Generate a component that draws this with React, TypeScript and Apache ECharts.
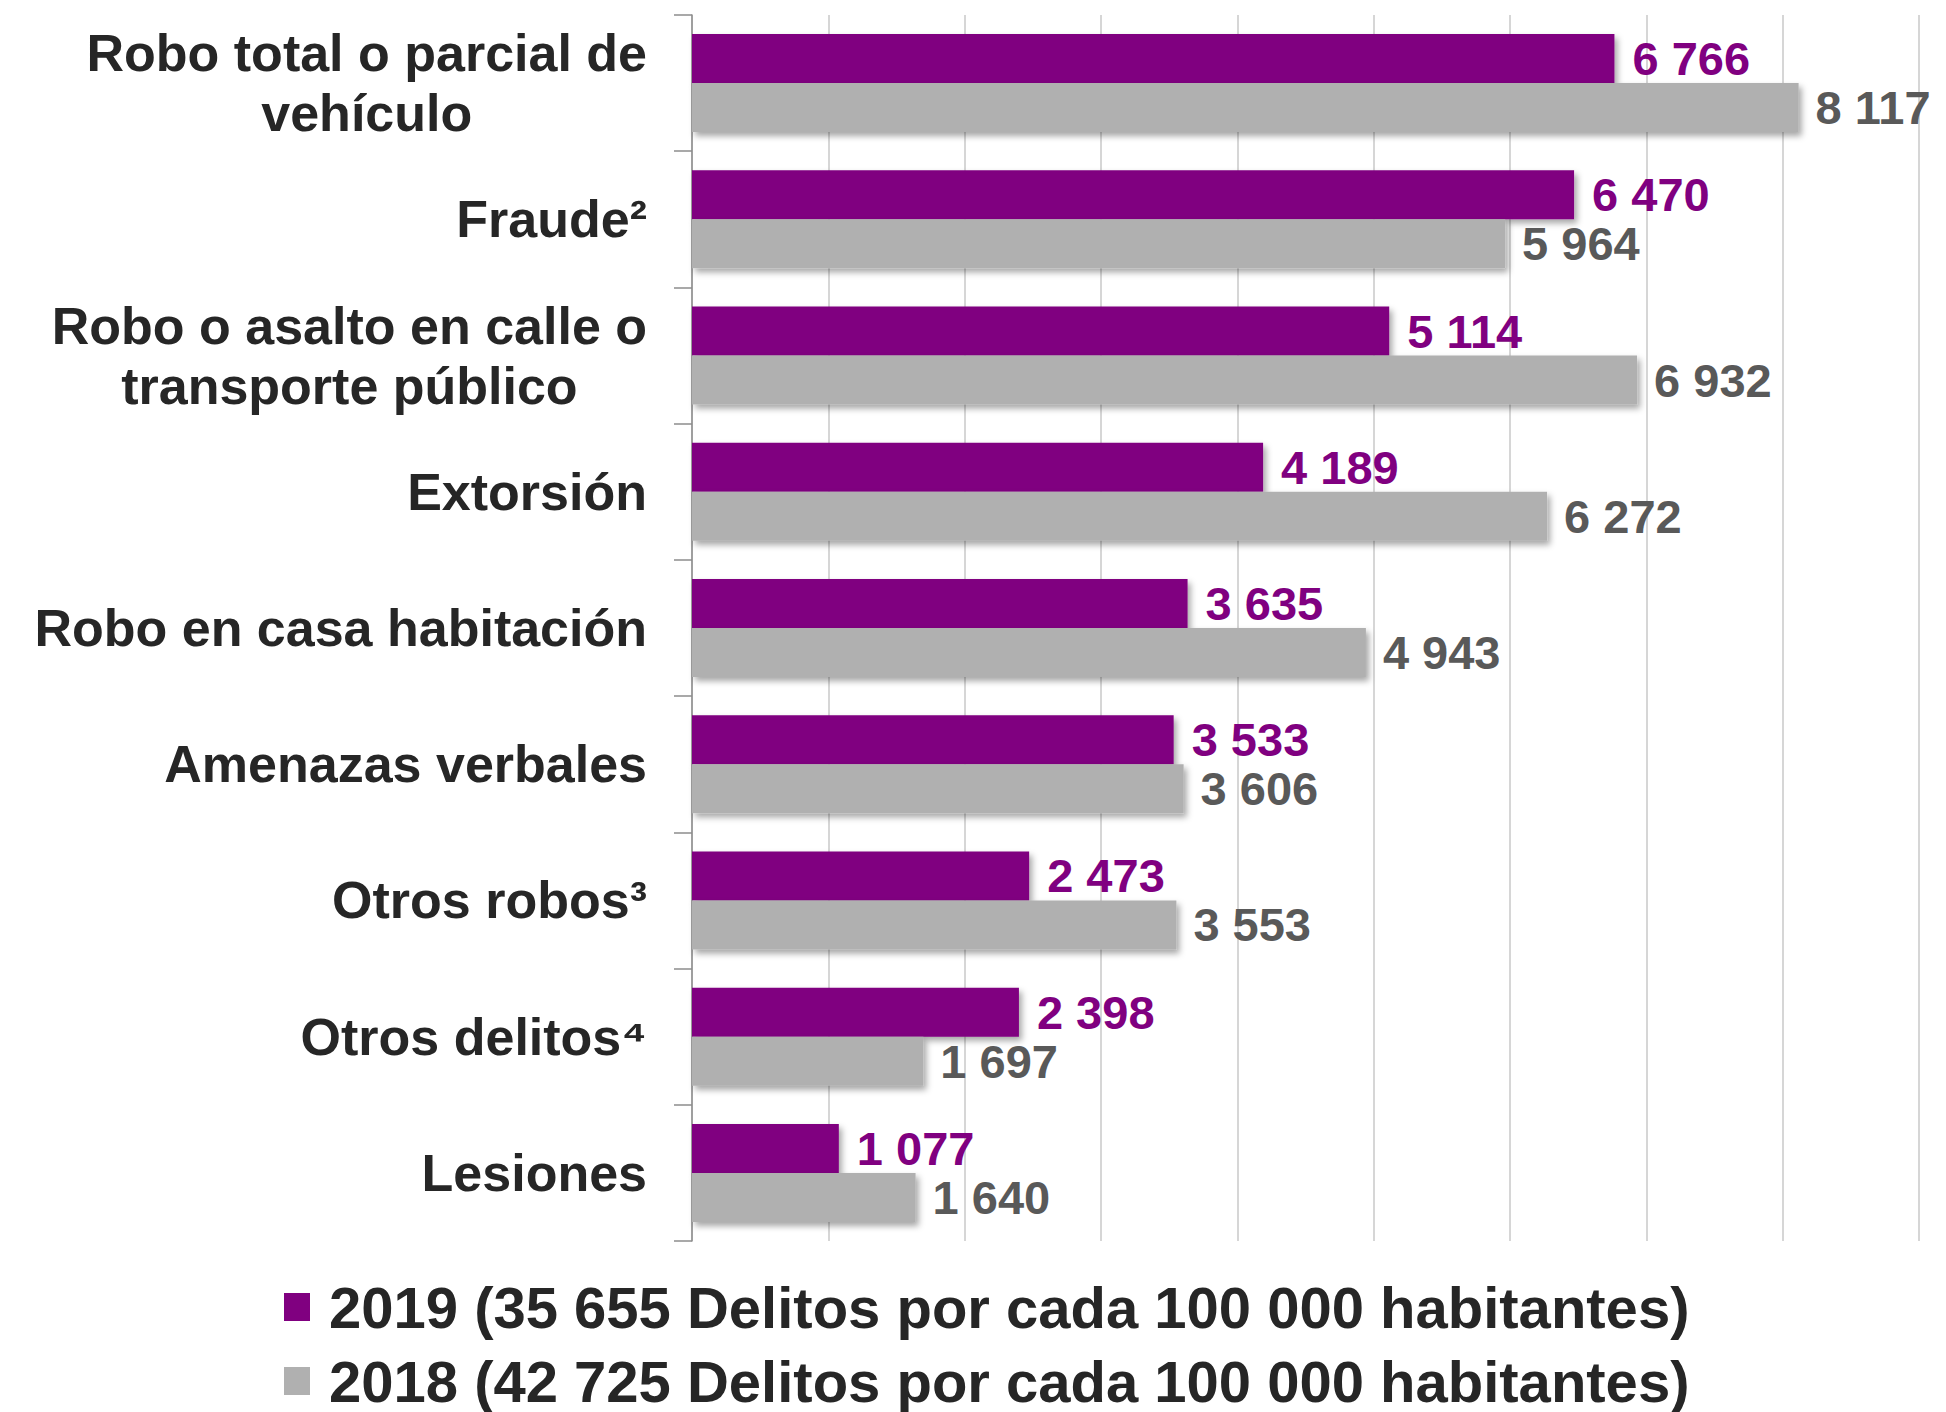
import React, { useEffect, useRef } from "react";
import * as echarts from "echarts";

const categories = [
  "Robo total o parcial de\nvehículo",
  "Fraude²",
  "Robo o asalto en calle o\ntransporte público",
  "Extorsión",
  "Robo en casa habitación",
  "Amenazas verbales",
  "Otros robos³",
  "Otros delitos⁴",
  "Lesiones",
];
const values2019 = [6766, 6470, 5114, 4189, 3635, 3533, 2473, 2398, 1077];
const values2018 = [8117, 5964, 6932, 6272, 4943, 3606, 3553, 1697, 1640];
const seriesNames = [
  "2019 (35 655 Delitos por cada 100 000 habitantes)",
  "2018 (42 725 Delitos por cada 100 000 habitantes)",
];
const xTicks = { min: 0, max: 9000, interval: 1000 };

const FONT = "'Liberation Sans', Arial, sans-serif";
const PURPLE = "#800080";
const GRAY = "#b0b0b0";

const fmt = (v: number) => String(v).replace(/\B(?=(\d{3})+(?!\d))/g, " ");

export default function App() {
  const ref = useRef<HTMLDivElement>(null);
  useEffect(() => {
    if (!ref.current) return;
    const chart = echarts.init(ref.current, null, { renderer: "svg" });
    const shadow = {
      shadowColor: "rgba(0,0,0,0.35)",
      shadowBlur: 6,
      shadowOffsetX: 3,
      shadowOffsetY: 4,
    };
    chart.setOption({
      animation: false,
      backgroundColor: "#ffffff",
      textStyle: { fontFamily: FONT },
      grid: { left: 692, right: 27, top: 15, bottom: 171, containLabel: false },
      legend: {
        orient: "vertical",
        left: 284,
        top: 1277,
        padding: 0,
        itemGap: 14,
        itemWidth: 26,
        itemHeight: 28,
        icon: "rect",
        selectedMode: false,
        textStyle: {
          fontFamily: FONT,
          fontSize: 58,
          fontWeight: "bold",
          color: "#262626",
          lineHeight: 60,
          padding: [0, 0, 0, 14],
        },
        data: seriesNames,
      },
      xAxis: {
        type: "value",
        min: xTicks.min,
        max: xTicks.max,
        interval: xTicks.interval,
        axisLabel: { show: false },
        axisLine: { show: false },
        axisTick: { show: false },
        splitLine: { show: true, lineStyle: { color: "#c8c8c8", width: 1.5 } },
      },
      yAxis: {
        type: "category",
        inverse: true,
        data: categories,
        axisLine: { show: true, lineStyle: { color: "#8c8c8c", width: 1.5 } },
        axisTick: { show: true, length: 18, lineStyle: { color: "#8c8c8c", width: 1.5 } },
        axisLabel: {
          margin: 45,
          fontFamily: FONT,
          fontSize: 52,
          fontWeight: "bold",
          color: "#262626",
          lineHeight: 60,
          formatter: (v: string) =>
            v
              .split("\n")
              .map((l) => `{c|${l}}`)
              .join("\n"),
          rich: {
            c: {
              align: "center",
              fontFamily: FONT,
              fontSize: 52,
              fontWeight: "bold",
              color: "#262626",
              lineHeight: 60,
            },
          },
        },
      },
      series: [
        {
          name: seriesNames[0],
          type: "bar",
          data: values2019,
          barWidth: 49,
          barGap: "0%",
          itemStyle: { color: PURPLE, ...shadow },
          label: {
            show: true,
            position: "right",
            distance: 18,
            fontFamily: FONT,
            fontSize: 47,
            fontWeight: "bold",
            color: PURPLE,
            formatter: (p: any) => fmt(p.value),
          },
        },
        {
          name: seriesNames[1],
          type: "bar",
          data: values2018,
          barWidth: 49,
          barGap: "0%",
          itemStyle: { color: GRAY, ...shadow },
          label: {
            show: true,
            position: "right",
            distance: 17,
            fontFamily: FONT,
            fontSize: 47,
            fontWeight: "bold",
            color: "#595959",
            formatter: (p: any) => fmt(p.value),
          },
        },
      ],
    });
    return () => chart.dispose();
  }, []);
  return (
    <div
      ref={ref}
      style={{ position: "fixed", left: 0, top: 0, width: 1946, height: 1412, background: "#fff" }}
    />
  );
}
